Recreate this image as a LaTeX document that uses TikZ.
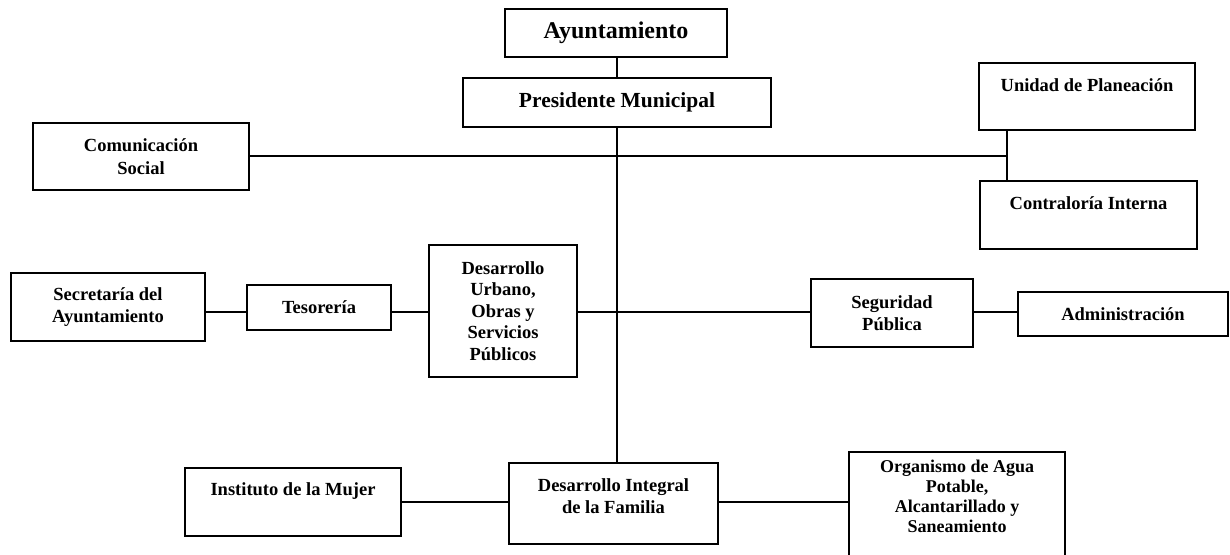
\documentclass[tikz,border=0pt]{standalone}
\usepackage{fontspec}
\setmainfont{Liberation Serif}
\begin{document}
\begin{tikzpicture}[x=1pt,y=-1pt]
\tikzset{
  box/.style={draw, line width=1.6pt, inner sep=0pt},
  lbl/.style={font=\fontsize{18.5}{21.5}\selectfont\bfseries, align=center, inner sep=0pt},
  conn/.style={line width=1.6pt},
}
\useasboundingbox (0,0) rectangle (1230,554);
\clip (0,0) rectangle (1230,554);
% top
\node[box, minimum width=222pt, minimum height=48pt, font=\fontsize{24}{28}\selectfont\bfseries] (ayun) at (616,33) {Ayuntamiento};
\node[box, minimum width=308pt, minimum height=49pt, font=\fontsize{21.5}{25}\selectfont\bfseries] (pres) at (617,102.5) {Presidente Municipal};
% row 1
\node[box, lbl, minimum width=216pt, minimum height=67pt, font=\fontsize{18.5}{22.5}\selectfont\bfseries] (com) at (141,156.5) {Comunicación\\Social};
\node[box, minimum width=216pt, minimum height=67pt] (unid) at (1087,96.5) {};
\node[lbl] (unidt) at ([yshift=-23pt]unid.north) {Unidad de Planeación};
\node[box, minimum width=217pt, minimum height=68pt] (contra) at (1088.5,215) {};
\node[lbl] (contrat) at ([yshift=-23pt]contra.north) {Contraloría Interna};
% row 2
\node[box, lbl, minimum width=194pt, minimum height=68pt] (secre) at (108,307) {Secretaría del\\Ayuntamiento};
\node[box, lbl, minimum width=144pt, minimum height=45pt] (teso) at (319,307.5) {Tesorería};
\node[box, lbl, minimum width=148pt, minimum height=132pt] (du) at (503,311) {Desarrollo\\Urbano,\\Obras y\\Servicios\\Públicos};
\node[box, lbl, minimum width=162pt, minimum height=68pt] (seg) at (892,313) {Seguridad\\Pública};
\node[box, lbl, minimum width=210pt, minimum height=44pt] (admin) at (1123,314) {Administración};
% row 3
\node[box, minimum width=216pt, minimum height=68pt] (inst) at (293,502) {};
\node[lbl] (instt) at ([yshift=-24pt]inst.north) {Instituto de la Mujer};
\node[box, minimum width=209pt, minimum height=81pt] (dif) at (613.5,503.5) {};
\node[lbl] (dift) at ([yshift=-34pt]dif.north) {Desarrollo Integral\\de la Familia};
\node[box, minimum width=216pt, minimum height=140pt] (org) at (957,522) {};
\node[lbl, font=\fontsize{18}{20}\selectfont\bfseries] (orgt) at ([yshift=-45pt]org.north) {Organismo de Agua\\Potable,\\Alcantarillado y\\Saneamiento};
% connector coordinates
\coordinate (r1) at (0,156);
\coordinate (r2) at (0,312);
\coordinate (r3) at (0,502);
\coordinate (tr) at (617,0);
\coordinate (vx) at (1007,0);
% connectors
\draw[conn] (ayun.south -| tr) -- (pres.north -| tr);
\draw[conn] (pres.south -| tr) -- (dif.north -| tr);
\draw[conn] (com.east |- r1) -- (vx |- r1);
\draw[conn] (unid.south -| vx) -- (contra.north -| vx);
\draw[conn] (secre.east |- r2) -- (teso.west |- r2);
\draw[conn] (teso.east |- r2) -- (du.west |- r2);
\draw[conn] (du.east |- r2) -- (seg.west |- r2);
\draw[conn] (seg.east |- r2) -- (admin.west |- r2);
\draw[conn] (inst.east |- r3) -- (dif.west |- r3);
\draw[conn] (dif.east |- r3) -- (org.west |- r3);
\end{tikzpicture}
\end{document}
